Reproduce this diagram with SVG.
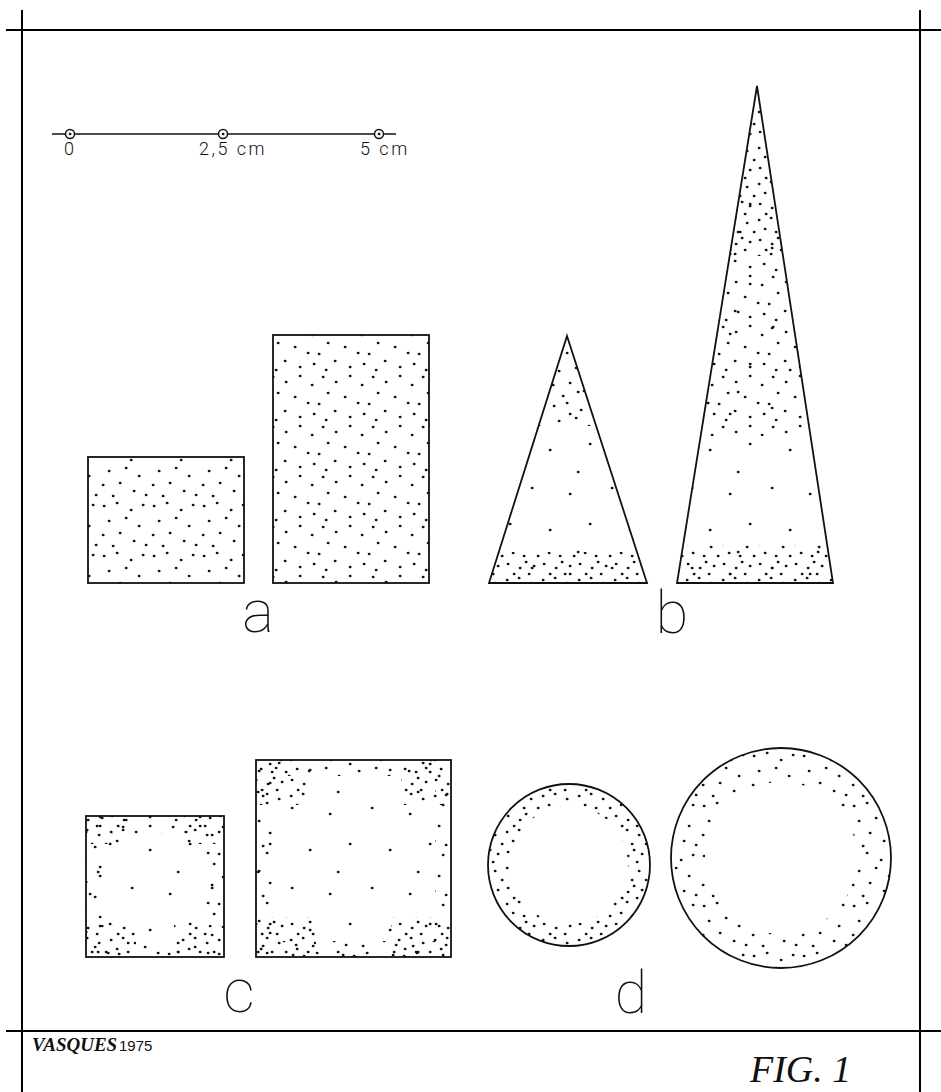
<svg xmlns="http://www.w3.org/2000/svg" width="941" height="1092" viewBox="0 0 941 1092">
<style>
.frame{stroke:#000;stroke-width:2;fill:none}
.shape{stroke:#111;stroke-width:1.8;fill:none}
.dots{stroke:#111;stroke-width:2.6;stroke-linecap:round;fill:none}
.lbl{font-family:Roboto,"DejaVu Sans",sans-serif;font-weight:100;fill:#111;text-anchor:middle}
.sc{font-family:Roboto,"DejaVu Sans",sans-serif;font-weight:300;font-size:18px;letter-spacing:2.5px;fill:#111}
</style>
<defs>
<pattern id="pMed" width="50" height="50" patternUnits="userSpaceOnUse">
<path class="dots" d="M4 6h.3M17 3h.3M31 10h.3M43 5h.3M9 21h.3M26 18h.3M39 26h.3M3 35h.3M20 33h.3M34 41h.3M46 45h.3M13 46h.3"/>
</pattern>
<pattern id="pMed2" width="50" height="50" patternUnits="userSpaceOnUse" patternTransform="translate(17 23)">
<path class="dots" d="M6 4h.3M19 9h.3M33 3h.3M45 12h.3M11 20h.3M28 24h.3M41 30h.3M2 31h.3M18 38h.3M33 44h.3M47 41h.3M9 47h.3"/>
</pattern>
<pattern id="pDense" width="36" height="36" patternUnits="userSpaceOnUse">
<path class="dots" d="M3 4h.3M15 2h.3M27 7h.3M34 16h.3M9 13h.3M20 16h.3M30 26h.3M4 24h.3M16 28h.3M25 34h.3M10 34h.3M22 22h.3"/>
</pattern>
<pattern id="pSparse" width="80" height="80" patternUnits="userSpaceOnUse">
<path class="dots" d="M10 14h.3M52 8h.3M30 44h.3M70 50h.3M18 72h.3"/>
</pattern>
<clipPath id="cTriS"><polygon points="567,336 647,583 489,583"/></clipPath>
<clipPath id="cTriL"><polygon points="757,86 833,583 677,583"/></clipPath>
</defs>

<g id="border">
<path class="frame" d="M6 30H941M6 1031H941M22 10V1092M920 10V1092"/>
</g>

<g id="scale-bar">
<path stroke="#111" stroke-width="1.5" d="M52 134H396"/>
<g fill="#fff" stroke="#111" stroke-width="1.5">
<circle cx="70" cy="134" r="4.5"/>
<circle cx="223" cy="134" r="4.5"/>
<circle cx="379" cy="134" r="4.5"/>
</g>
<path class="dots" stroke-width="1.6" d="M70 134h.2M223 134h.2M379 134h.2"/>
<text class="sc" x="64" y="155">0</text>
<text class="sc" x="199" y="155">2,5 cm</text>
<text class="sc" x="360" y="155">5 cm</text>
</g>

<g id="rect-a-small">
<rect x="88" y="457" width="156" height="126" fill="url(#pMed)"/>
<rect class="shape" x="88" y="457" width="156" height="126"/>
</g>
<g id="rect-a-large">
<rect x="273" y="335" width="156" height="248" fill="url(#pMed2)"/>
<rect class="shape" x="273" y="335" width="156" height="248"/>
</g>
<text id="label-a" class="lbl" font-size="60" x="258" y="632">a</text>

<g id="triangle-b-small">
<g clip-path="url(#cTriS)">
<rect x="480" y="330" width="180" height="260" fill="url(#pSparse)"/>
<rect x="480" y="336" width="180" height="90" fill="url(#pMed)"/>
<rect x="480" y="552" width="180" height="35" fill="url(#pDense)"/>
</g>
<polygon class="shape" points="567,336 647,583 489,583"/>
</g>
<g id="triangle-b-large">
<g clip-path="url(#cTriL)">
<rect x="670" y="80" width="170" height="510" fill="url(#pSparse)"/>
<rect x="670" y="86" width="170" height="170" fill="url(#pDense)"/>
<rect x="670" y="256" width="170" height="180" fill="url(#pMed2)"/>
<rect x="670" y="545" width="170" height="42" fill="url(#pDense)"/>
</g>
<polygon class="shape" points="757,86 833,583 677,583"/>
</g>
<text id="label-b" class="lbl" font-size="60" x="672" y="633">b</text>

<g id="square-c-small">
<rect x="86" y="816" width="138" height="141" fill="url(#pSparse)"/>
<path fill="url(#pMed2)" fill-rule="evenodd" d="M86 816h138v141h-138zM104 834v105h102v-105z"/>
<g fill="url(#pDense)">
<rect x="86" y="816" width="40" height="28"/>
<rect x="184" y="816" width="40" height="28"/>
<rect x="86" y="925" width="50" height="32"/>
<rect x="174" y="925" width="50" height="32"/>
</g>
<rect class="shape" x="86" y="816" width="138" height="141"/>
</g>
<g id="square-c-large">
<rect x="256" y="760" width="195" height="197" fill="url(#pSparse)"/>
<path fill="url(#pMed)" fill-rule="evenodd" d="M256 760h195v197h-195zM272 776v165h163v-165z"/>
<g fill="url(#pDense)">
<rect x="256" y="760" width="50" height="45"/>
<rect x="401" y="760" width="50" height="45"/>
<rect x="256" y="917" width="60" height="40"/>
<rect x="391" y="917" width="60" height="40"/>
</g>
<rect class="shape" x="256" y="760" width="195" height="197"/>
</g>
<text id="label-c" class="lbl" font-size="62" x="239" y="1012">c</text>

<g id="circle-d-small">
<path fill="url(#pDense)" fill-rule="evenodd" d="M488 865a81 81 0 1 0 162 0a81 81 0 1 0 -162 0zM510 865a59 59 0 1 0 118 0a59 59 0 1 0 -118 0z"/>
<circle class="shape" cx="569" cy="865" r="81"/>
</g>
<g id="circle-d-large">
<path fill="url(#pMed)" fill-rule="evenodd" d="M671 858a110 110 0 1 0 220 0a110 110 0 1 0 -220 0zM705 858a76 76 0 1 0 152 0a76 76 0 1 0 -152 0z"/>
<circle class="shape" cx="781" cy="858" r="110"/>
</g>
<text id="label-d" class="lbl" font-size="60" x="631" y="1013">d</text>

<g id="signature">
<text x="32" y="1051" font-family="'Liberation Serif',serif" font-weight="bold" font-style="italic" font-size="19" fill="#111">VASQUES<tspan x="119" font-family="'Liberation Sans',sans-serif" font-style="normal" font-weight="normal" font-size="15">1975</tspan></text>
</g>
<g id="fig-caption">
<text x="750" y="1082" font-family="'Liberation Serif',serif" font-style="italic" font-size="38" fill="#111">FIG. 1</text>
</g>
</svg>
